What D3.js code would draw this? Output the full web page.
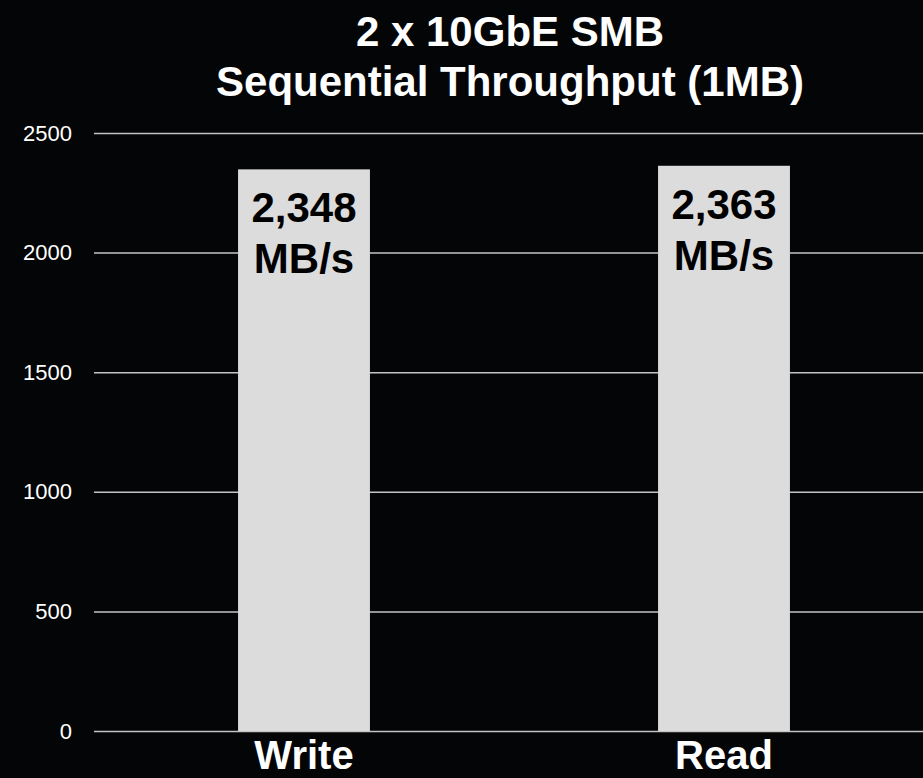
<!DOCTYPE html>
<html>
<head>
<meta charset="utf-8">
<script src="https://cdn.jsdelivr.net/npm/d3@7"></script>
<style>
  html, body { margin: 0; padding: 0; background: #040506; }
  svg { display: block; }
  svg text { font-family: "Liberation Sans", Arial, sans-serif; }
</style>
</head>
<body>
<svg id="chart" width="923" height="778"></svg>
<script>
// chart data
var categories = ["Write", "Read"];
var throughput = [2348, 2363];
var yTicks = [0, 500, 1000, 1500, 2000, 2500];
var titleLines = ["2 x 10GbE SMB", "Sequential Throughput (1MB)"];
var unit = "MB/s";

(function() {
    var width = 923, height = 778;
    var svg = d3.select("#chart");

    svg.append("rect")
        .attr("width", width).attr("height", height)
        .attr("fill", "#040506");

    // plot runs a little past the right edge, like the original slide
    var x = d3.scaleBand()
        .domain(categories)
        .range([94, 934])
        .paddingInner(0.686)
        .paddingOuter(0.343);

    var y = d3.scaleLinear()
        .domain([0, 2500])
        .range([731, 133]);

    // gridlines + tick labels
    var yAxis = svg.append("g")
        .attr("transform", "translate(94,0)")
        .call(d3.axisLeft(y).tickValues(yTicks).tickFormat(d3.format("d"))
            .tickSize(-(width - 94)).tickPadding(22))
        .call((g) => g.select(".domain").remove());

    yAxis.selectAll(".tick line")
        .attr("stroke", "#c4c4c4")
        .attr("stroke-width", 1.5);

    yAxis.selectAll(".tick text")
        .attr("fill", "#ffffff")
        .attr("font-size", 22);

    // bars
    svg.append("g")
        .selectAll("rect")
        .data(throughput)
        .enter()
        .append("rect")
            .attr("x", (d, i) => x(categories[i]))
            .attr("y", (d) => y(d))
            .attr("width", x.bandwidth())
            .attr("height", (d) => y(0) - y(d))
            .attr("fill", "#dcdcdc");

    // value labels inside bars
    var fmt = d3.format(",");
    var labels = svg.append("g")
        .selectAll("text")
        .data(throughput)
        .enter()
        .append("text")
            .attr("x", (d, i) => x(categories[i]) + x.bandwidth() / 2)
            .attr("y", (d) => y(d) + 53)
            .attr("text-anchor", "middle")
            .attr("font-weight", "bold")
            .attr("font-size", 42)
            .attr("fill", "#000000");
    labels.append("tspan").text((d) => fmt(d));
    labels.append("tspan")
        .attr("x", (d, i) => x(categories[i]) + x.bandwidth() / 2)
        .attr("dy", 51)
        .text(unit);

    // category labels (kept just clear of the bottom edge)
    svg.append("g")
        .selectAll("text")
        .data(categories)
        .enter()
        .append("text")
            .attr("x", (d) => x(d) + x.bandwidth() / 2)
            .attr("y", 769)
            .attr("text-anchor", "middle")
            .attr("font-weight", "bold")
            .attr("font-size", 40)
            .attr("fill", "#ffffff")
            .text((d) => d);

    // title
    svg.append("g")
        .selectAll("text")
        .data(titleLines)
        .enter()
        .append("text")
            .attr("x", 510)
            .attr("y", (d, i) => 46 + i * 50)
            .attr("text-anchor", "middle")
            .attr("font-weight", "bold")
            .attr("font-size", 42)
            .attr("fill", "#ffffff")
            .text((d) => d);
})();
</script>
</body>
</html>
